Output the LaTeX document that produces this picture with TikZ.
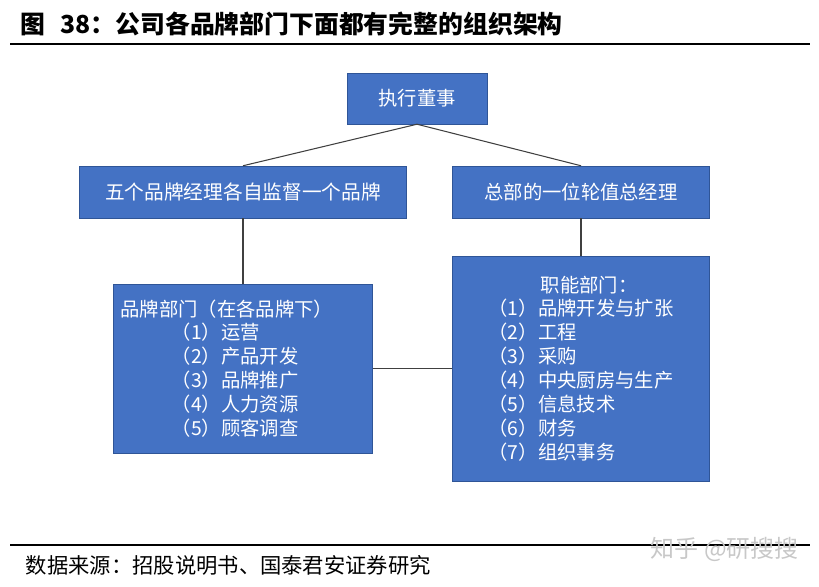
\documentclass[tikz,border=0pt]{standalone}
\usepackage{fontspec}
\setmainfont{Noto Sans CJK SC}
\usepackage{xcolor}
\usetikzlibrary{positioning}

\definecolor{boxblue}{HTML}{4472C4}
\definecolor{boxedge}{HTML}{2F5597}
\definecolor{linegray}{HTML}{404040}
\definecolor{markgray}{HTML}{C8C8C8}

\begin{document}
\begin{tikzpicture}[
    font=\fontsize{16.5}{20.4}\selectfont,
    box/.style={
        draw=boxedge,
        fill=boxblue,
        text=white,
        inner sep=0pt
    },
    link/.style={
        draw=linegray,
        line width=0.9pt
    },
    rule/.style={
        draw=black,
        line width=0.9pt
    }
]

\useasboundingbox (0,0) rectangle (24.57,17.58);

% Heading and source line
\node[
    anchor=west,
    font=\fontsize{21.2}{24}\selectfont\bfseries
] (title) at (0.5,16.86) {
    图\hspace{0.6em}38：公司各品牌部门下面都有完整的组织架构
};

\draw[
    rule
] (0.3,16.26) -- (24.3,16.26);

\draw[
    rule
] (0.3,1.23) -- (24.3,1.23);

\node[
    anchor=west,
    font=\fontsize{18.2}{20}\selectfont
] (source) at (0.65,0.63) {
    数据来源：招股说明书、国泰君安证券研究
};

\node[
    anchor=west,
    text=markgray,
    font=\fontsize{20.5}{22}\selectfont
] (mark) at (19.4,1.11) {
    知乎 @研搜搜
};


% Level 1: executive director
\node[
    box,
    minimum width=4.2cm,
    minimum height=1.53cm
] (exec) at (12.51,14.625) {
    执行董事
};


% Level 2: brand managers and rotating manager
\node[
    box,
    font=\fontsize{16.8}{20.4}\selectfont,
    minimum width=9.81cm,
    minimum height=1.56cm
] (brands) at (7.29,11.82) {
    五个品牌经理各自监督一个品牌
};

\node[
    box,
    minimum width=7.71cm,
    minimum height=1.56cm
] (rotate) at (17.43,11.82) {
    总部的一位轮值总经理
};


% Level 3: departments
\node[
    box,
    align=left,
    text width=7.35cm,
    minimum width=7.77cm,
    minimum height=5.07cm
] (branddept) at (7.29,6.525) {
    品牌部门（在各品牌下）\\
    \hspace*{2.65em}（1）运营\\
    \hspace*{2.65em}（2）产品开发\\
    \hspace*{2.65em}（3）品牌推广\\
    \hspace*{2.65em}（4）人力资源\\
    \hspace*{2.65em}（5）顾客调查
};

\node[
    box,
    align=left,
    minimum width=7.71cm,
    minimum height=6.75cm
] (funcdept) at (17.43,6.525) {
    \hspace*{2.7em}职能部门：\\
    （1）品牌开发与扩张\\
    （2）工程\\
    （3）采购\\
    （4）中央厨房与生产\\
    （5）信息技术\\
    （6）财务\\
    （7）组织事务
};


% Connectors
\draw[link] (exec.south) -- (brands.north);
\draw[link] (exec.south) -- (rotate.north);
\draw[link] (brands.south) -- (branddept.north);
\draw[link] (rotate.south) -- (funcdept.north);
\draw[link] (branddept.east) -- (funcdept.west);

\end{tikzpicture}
\end{document}
